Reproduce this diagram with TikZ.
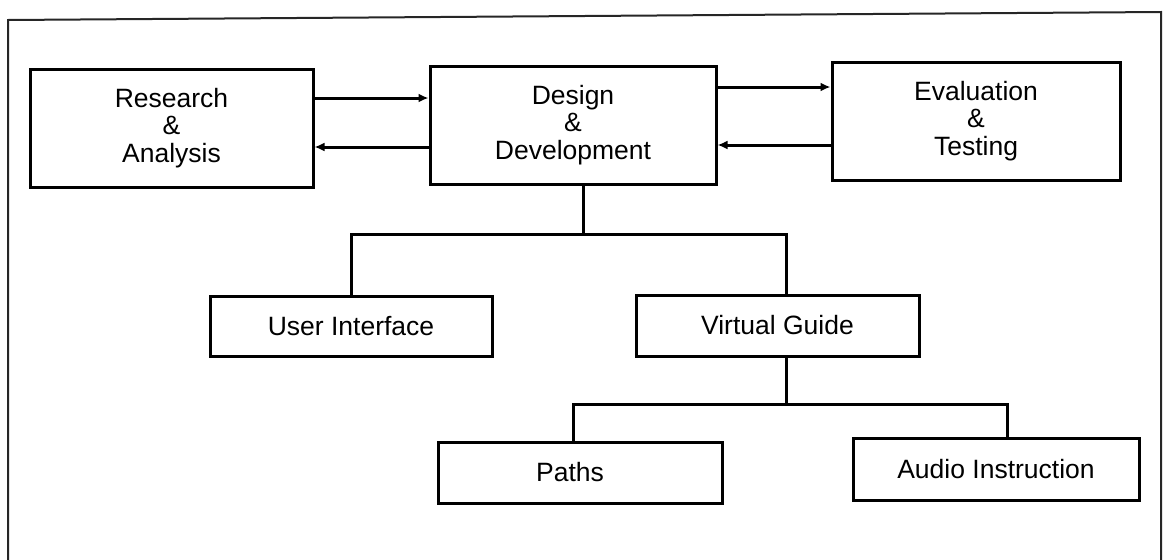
\documentclass[tikz,border=0pt]{standalone}
\usepackage{fontspec}
\setmainfont{Liberation Sans}
\usetikzlibrary{arrows.meta}
\begin{document}
\begin{tikzpicture}[x=1pt,y=-1pt,
  box/.style={draw=black,line width=3pt,rectangle,inner sep=0pt,align=center,
    font=\fontsize{26.5}{27.5}\selectfont},
  conn/.style={line width=3pt},
  arr/.style={line width=3pt,-{Latex[length=10pt,width=9pt]}},
  frameline/.style={line width=2pt,draw=black!85}]
\useasboundingbox (0,0) rectangle (1163,560);
\begin{scope}
\clip (0,0) rectangle (1163,560);
\draw[frameline] (8,580) -- (8,20) -- (1161,12) -- (1161,580);
\end{scope}
% boxes
\node[box,minimum width=283pt,minimum height=118pt] (res) at (171.5,128) {Research\\\&\\Analysis};
\node[box,minimum width=286pt,minimum height=118pt] (des) at (573,125) {Design\\\&\\Development};
\node[box,minimum width=288pt,minimum height=118pt] (eva) at (976,121) {Evaluation\\\&\\Testing};
\node[box,minimum width=282pt,minimum height=60pt] (ui) at (351,326) {User Interface};
\node[box,minimum width=283pt,minimum height=61pt] (vg) at (777.5,325.5) {Virtual Guide};
\node[box,minimum width=284pt,minimum height=61pt] (pa) at (580,472.5) {\hspace*{-20pt}Paths};
\node[box,minimum width=286pt,minimum height=62pt] (au) at (996,469) {Audio Instruction};
% horizontal arrows
\coordinate (r1) at ([yshift=30pt]res.east);
\coordinate (r2) at ([yshift=-19pt]res.east);
\coordinate (e1) at ([yshift=38pt]des.east);
\coordinate (e2) at ([yshift=-24pt]eva.west);
\draw[arr] (r1) -- (r1 -| des.west);
\draw[arr] (r2 -| des.west) -- (r2);
\draw[arr] (e1) -- (e1 -| eva.west);
\draw[arr] (e2) -- (e2 -| des.east);
% tree
\coordinate (bar) at (0,234);
\coordinate (bar2) at (0,404);
\coordinate (dj) at ([xshift=10pt]des.south);
\coordinate (vgt) at ([xshift=8.5pt]vg.north);
\coordinate (vgb) at ([xshift=8.5pt]vg.south);
\coordinate (pat) at ([xshift=-7pt]pa.north);
\coordinate (aut) at ([xshift=11pt]au.north);
\draw[conn] (dj) -- (dj |- bar);
\draw[conn] (ui.north) |- (bar -| vgt) -- (vgt);
\draw[conn] (vgb) -- (vgb |- bar2);
\draw[conn] (pat) |- (bar2 -| aut) -- (aut);
\end{tikzpicture}
\end{document}
